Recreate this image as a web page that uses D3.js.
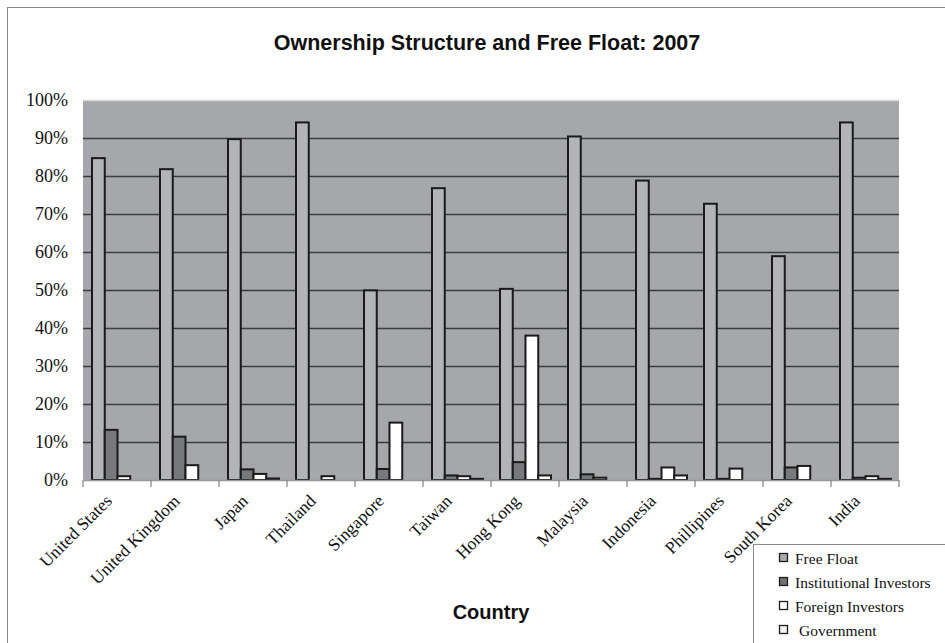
<!DOCTYPE html>
<html>
<head>
<meta charset="utf-8">
<script src="https://cdnjs.cloudflare.com/ajax/libs/d3/7.8.5/d3.min.js"></script>
<style>
  body { margin: 0; background: #fff; }
  svg { display: block; }
</style>
</head>
<body>
<svg id="chart"></svg>
<script>
// Dữ liệu
const countries = ["United States", "United Kingdom", "Japan", "Thailand", "Singapore", "Taiwan",
  "Hong Kong", "Malaysia", "Indonesia", "Phillipines", "South Korea", "India"];
const seriesNames = ["Free Float", "Institutional Investors", "Foreign Investors", "Government"];
const freeFloat     = [84.7, 81.8, 89.7, 94.1, 49.9, 76.8, 50.3, 90.4, 78.8, 72.7, 58.9, 94.1];
const institutional = [13.2, 11.4, 2.8, 0, 2.9, 1.2, 4.7, 1.5, 0.3, 0.3, 3.3, 0.6];
const foreign       = [1.0, 3.9, 1.6, 1.0, 15.1, 1.0, 38.0, 0.6, 3.3, 3.0, 3.7, 1.0];
const government    = [0, 0, 0.4, 0, 0, 0.3, 1.2, 0, 1.2, 0, 0, 0.3];
const yTicks = [0, 10, 20, 30, 40, 50, 60, 70, 80, 90, 100];

const seriesValues = [freeFloat, institutional, foreign, government];
const fills = ["#b3b4b8", "#77787c", "#ffffff", "#ffffff"];
const legendFills = ["#a9aaad", "#6f7073", "#ffffff", "#f2f2f2"];

const W = 945, H = 643;
const margin = { top: 100, right: 46, bottom: 163, left: 83 };
const width = W - margin.left - margin.right,
      height = H - margin.top - margin.bottom;

const svg = d3.select("#chart").attr("width", W).attr("height", H);

// khung ngoài
svg.append("rect")
  .attr("x", 7.5).attr("y", 7.5)
  .attr("width", W).attr("height", H)
  .attr("fill", "none").attr("stroke", "#8a8a8a").attr("stroke-width", 1);

svg.append("text")
  .attr("x", 487).attr("y", 50)
  .attr("text-anchor", "middle")
  .style("font-family", "Liberation Sans, Arial, sans-serif")
  .style("font-size", "21.5px")
  .style("font-weight", "bold")
  .attr("fill", "#111")
  .text("Ownership Structure and Free Float: 2007");

const g = svg.append("g").attr("transform", `translate(${margin.left},${margin.top})`);

const x0 = d3.scaleBand().domain(countries).range([0, width]).padding(0);
const x1 = d3.scaleBand().domain(d3.range(4)).range([9, 60]).padding(0);
const y = d3.scaleLinear().domain([0, 100]).range([height, 0]);

// nền vùng vẽ
g.append("rect")
  .attr("width", width).attr("height", height)
  .attr("fill", "#a6a7ab");

// đường lưới
g.selectAll(".grid")
  .data(yTicks.filter(d => d > 0))
  .enter().append("line")
  .attr("x1", 0).attr("x2", width)
  .attr("y1", d => y(d) + 0.5).attr("y2", d => y(d) + 0.5)
  .attr("stroke", d => d === 100 ? "#d8d8d8" : "#3c3c3c")
  .attr("stroke-width", 1.3);

// cột
const groups = g.selectAll(".country")
  .data(countries)
  .enter().append("g")
  .attr("transform", d => `translate(${x0(d)},0)`);

groups.selectAll("rect")
  .data((c, i) => seriesValues.map((vals, s) => ({ s, v: vals[i] })).filter(d => d.v > 0))
  .enter().append("rect")
  .attr("x", d => x1(d.s))
  .attr("y", d => y(d.v))
  .attr("width", x1.bandwidth())
  .attr("height", d => y(0) - y(d.v))
  .attr("fill", d => fills[d.s])
  .attr("stroke", "#1a1a1a")
  .attr("stroke-width", 2);

// trục y
const yAxis = g.append("g")
  .call(d3.axisLeft(y).tickValues(yTicks).tickFormat(d => d + "%").tickSize(0).tickPadding(15));
yAxis.select(".domain").remove();
yAxis.selectAll("text")
  .style("font-family", "Liberation Serif, Times New Roman, serif")
  .style("font-size", "18px")
  .attr("fill", "#111");

// trục x
const xAxis = g.append("g")
  .attr("transform", `translate(0,${height})`)
  .call(d3.axisBottom(x0).tickSize(0).tickFormat(""));
xAxis.select(".domain").attr("stroke", "#999").attr("stroke-width", 1.5);

g.append("g")
  .attr("transform", `translate(0,${height})`)
  .selectAll("line")
  .data(d3.range(countries.length + 1))
  .enter().append("line")
  .attr("x1", i => i * x0.step()).attr("x2", i => i * x0.step())
  .attr("y1", 0).attr("y2", 7)
  .attr("stroke", "#8a8a8a").attr("stroke-width", 1.3);

g.selectAll(".xlabel")
  .data(countries)
  .enter().append("text")
  .attr("class", "xlabel")
  .attr("transform", d => `translate(${x0(d) + x0.bandwidth() / 2 - 4},${height + 22}) rotate(-45)`)
  .attr("text-anchor", "end")
  .style("font-family", "Liberation Serif, Times New Roman, serif")
  .style("font-size", "17.5px")
  .attr("fill", "#111")
  .text(d => d);

svg.append("text")
  .attr("x", 491).attr("y", 619)
  .attr("text-anchor", "middle")
  .style("font-family", "Liberation Sans, Arial, sans-serif")
  .style("font-size", "20px")
  .style("font-weight", "bold")
  .attr("fill", "#111")
  .text("Country");

// chú giải
const legend = svg.append("g").attr("transform", "translate(753,544)");
legend.append("rect")
  .attr("x", 0.5).attr("y", 0.5)
  .attr("width", 300).attr("height", 200)
  .attr("fill", "#fff").attr("stroke", "#8a8a8a").attr("stroke-width", 1);

const items = legend.selectAll(".item")
  .data(seriesNames)
  .enter().append("g")
  .attr("transform", (d, i) => `translate(26,${14 + i * 24})`);

items.append("rect")
  .attr("x", 0.5).attr("y", -4.5)
  .attr("width", 8).attr("height", 8)
  .attr("fill", (d, i) => legendFills[i])
  .attr("stroke", "#1e1e1e").attr("stroke-width", 1.3);

items.append("text")
  .attr("x", (d, i) => i === 3 ? 20 : 16)
  .attr("y", 5.5)
  .style("font-family", "Liberation Serif, Times New Roman, serif")
  .style("font-size", "15.5px")
  .attr("fill", "#111")
  .text(d => d);
</script>
</body>
</html>
